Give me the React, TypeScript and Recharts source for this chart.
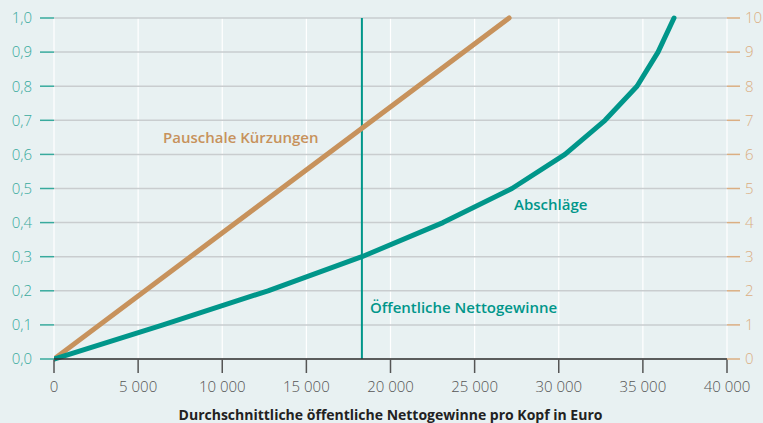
import React from 'react';
import { ComposedChart, Line, XAxis, YAxis, CartesianGrid, ReferenceLine, ReferenceDot } from 'recharts';

const xTicks = [0, 5000, 10000, 15000, 20000, 25000, 30000, 35000, 40000];
const leftTicks = [0, 0.1, 0.2, 0.3, 0.4, 0.5, 0.6, 0.7, 0.8, 0.9, 1.0];
const rightTicks = [0, 1, 2, 3, 4, 5, 6, 7, 8, 9, 10];

const abschlaegeX = [0, 6480, 12720, 18300, 23120, 27220, 30370, 32750, 34650, 35900, 36850];
const abschlaegeY = [0, 0.1, 0.2, 0.3, 0.4, 0.5, 0.6, 0.7, 0.8, 0.9, 1.0];
const pauschalX = [0, 27050];
const pauschalY = [0, 10];
const nettogewinneX = 18300;

const abschlaegeData = abschlaegeX.map((x, i) => ({ x, a: abschlaegeY[i] }));
const pauschalData = pauschalX.map((x, i) => ({ x, p: pauschalY[i] }));

const TEAL = '#00968a';
const TEAL_LIGHT = '#38aa9d';
const TAN = '#c7925c';
const TAN_LIGHT = '#dbae82';
const BG = '#e8f1f2';
const FONT = '"Open Sans", "Noto Sans", sans-serif';

const fmtThousands = (v: number) => (v === 0 ? '0' : `${Math.floor(v / 1000)}\u00a0000`);
const fmtDec = (v: number) => v.toFixed(1).replace('.', ',');

const makeLabel = (text: string, color: string) => (props: any) => (
  <text x={props.cx} y={props.cy} fill={color} fontSize={15} fontWeight={600} fontFamily={FONT} dominantBaseline="central" textAnchor="start">
    {text}
  </text>
);

export default function App() {
  return (
    <div style={{ position: 'absolute', left: 0, top: 0, width: 763, height: 423, background: BG }}>
      <ComposedChart width={763} height={423} margin={{ top: 18, right: 0, bottom: 0, left: 0 }}>
        <CartesianGrid horizontal={false} vertical={true} stroke="#ffffff" strokeWidth={1.2} />
        <CartesianGrid horizontal={true} vertical={false} stroke="#c9cdcf" strokeWidth={1.5} yAxisId="left" />
        <XAxis
          type="number"
          dataKey="x"
          domain={[0, 40000]}
          ticks={xTicks}
          tickFormatter={fmtThousands}
          allowDataOverflow
          height={64}
          tickSize={14}
          tickMargin={8}
          axisLine={{ stroke: '#333333', strokeWidth: 1.5 }}
          tickLine={{ stroke: '#555555', strokeWidth: 1.5 }}
          tick={{ fill: '#555555', fontSize: 15, fontFamily: FONT, fontWeight: 300 }}
          label={{ value: 'Durchschnittliche öffentliche Nettogewinne pro Kopf in Euro', position: 'insideBottom', offset: 3, fill: '#222222', fontSize: 14, fontWeight: 700, fontFamily: FONT }}
        />
        <YAxis
          yAxisId="left"
          orientation="left"
          domain={[0, 1]}
          ticks={leftTicks}
          tickFormatter={fmtDec}
          width={54}
          tickSize={14}
          tickMargin={8}
          axisLine={false}
          tickLine={{ stroke: TEAL_LIGHT, strokeWidth: 1.5 }}
          tick={{ fill: TEAL_LIGHT, fontSize: 15, fontFamily: FONT, fontWeight: 300 }}
        />
        <YAxis
          yAxisId="right"
          orientation="right"
          domain={[0, 10]}
          ticks={rightTicks}
          width={36}
          tickSize={13}
          tickMargin={5}
          axisLine={false}
          tickLine={{ stroke: TAN_LIGHT, strokeWidth: 1.5 }}
          tick={{ fill: TAN_LIGHT, fontSize: 15, fontFamily: FONT, fontWeight: 300, textAnchor: 'start' }}
        />
        <ReferenceLine yAxisId="left" x={nettogewinneX} stroke={TEAL} strokeWidth={2} />
        <Line yAxisId="right" data={pauschalData} dataKey="p" stroke={TAN} strokeWidth={5} dot={false} strokeLinecap="round" isAnimationActive={false} type="linear" />
        <Line yAxisId="left" data={abschlaegeData} dataKey="a" stroke={TEAL} strokeWidth={5} dot={false} strokeLinecap="round" strokeLinejoin="round" isAnimationActive={false} type="linear" />
        <ReferenceDot yAxisId="left" x={6480} y={0.651} r={0} shape={makeLabel('Pauschale Kürzungen', TAN)} />
        <ReferenceDot yAxisId="left" x={27340} y={0.4545} r={0} shape={makeLabel('Abschläge', TEAL)} />
        <ReferenceDot yAxisId="left" x={18780} y={0.1525} r={0} shape={makeLabel('Öffentliche Nettogewinne', TEAL)} />
      </ComposedChart>
    </div>
  );
}
